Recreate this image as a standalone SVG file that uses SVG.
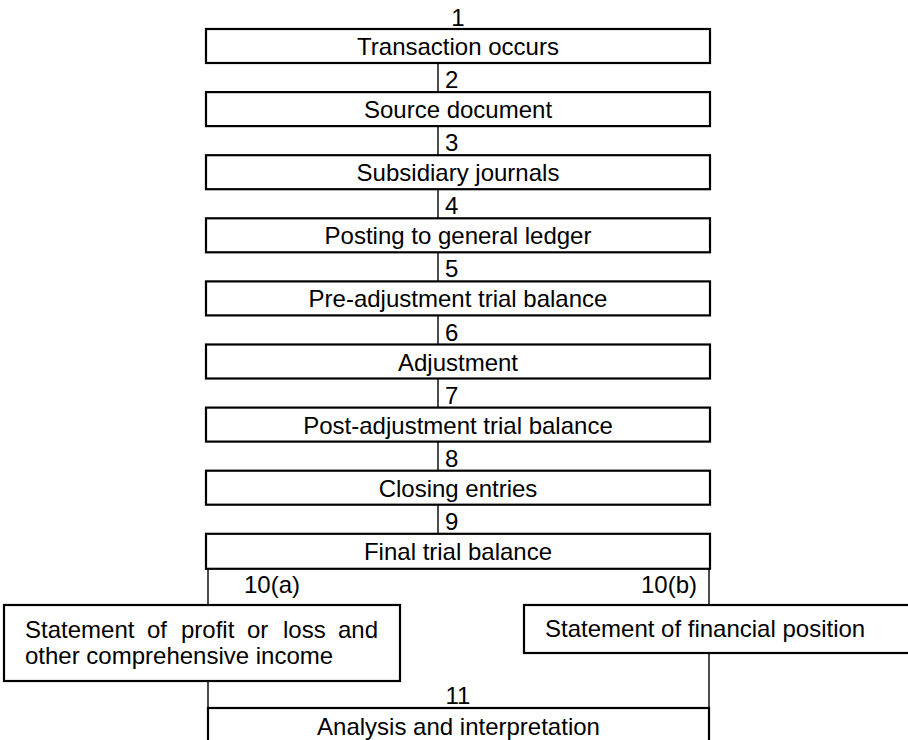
<svg xmlns="http://www.w3.org/2000/svg" width="908" height="740" viewBox="0 0 908 740">
<style>
.box{fill:#fff;stroke:#000;stroke-width:2.2}
.t{font-family:"Liberation Sans",Arial,sans-serif;font-size:24px;fill:#000}
.m{text-anchor:middle}
.c{stroke:#000;stroke-width:1.4;fill:none}
</style>
<rect width="908" height="740" fill="#fff"/>
<g id="connectors">
<line class="c" x1="438" y1="63" x2="438" y2="92.1"/>
<line class="c" x1="438" y1="126.1" x2="438" y2="155.2"/>
<line class="c" x1="438" y1="189.2" x2="438" y2="218.3"/>
<line class="c" x1="438" y1="252.3" x2="438" y2="281.4"/>
<line class="c" x1="438" y1="315.4" x2="438" y2="344.5"/>
<line class="c" x1="438" y1="378.5" x2="438" y2="407.6"/>
<line class="c" x1="438" y1="441.6" x2="438" y2="470.7"/>
<line class="c" x1="438" y1="504.7" x2="438" y2="533.8"/>
<line class="c" x1="208" y1="568.8" x2="208" y2="605"/>
<line class="c" x1="709" y1="568.8" x2="709" y2="605"/>
<line class="c" x1="208" y1="681" x2="208" y2="708"/>
<line class="c" x1="709" y1="653" x2="709" y2="708"/>
<text class="t m" x="458" y="26">1</text>
<text class="t" x="445" y="88">2</text>
<text class="t" x="445" y="151.2">3</text>
<text class="t" x="445" y="214.3">4</text>
<text class="t" x="445" y="277.4">5</text>
<text class="t" x="445" y="340.5">6</text>
<text class="t" x="445" y="403.6">7</text>
<text class="t" x="445" y="466.7">8</text>
<text class="t" x="445" y="529.8">9</text>
<text class="t" x="244" y="593">10(a)</text>
<text class="t" x="641" y="593">10(b)</text>
<text class="t m" x="458" y="704">11</text>
</g>
<g id="n1"><rect class="box" x="206" y="29" width="504" height="34"/><text class="t m" x="458" y="55">Transaction occurs</text></g>
<g id="n2"><rect class="box" x="206" y="92.1" width="504" height="34"/><text class="t m" x="458" y="118.1">Source document</text></g>
<g id="n3"><rect class="box" x="206" y="155.2" width="504" height="34"/><text class="t m" x="458" y="181.2">Subsidiary journals</text></g>
<g id="n4"><rect class="box" x="206" y="218.3" width="504" height="34"/><text class="t m" x="458" y="244.3">Posting to general ledger</text></g>
<g id="n5"><rect class="box" x="206" y="281.4" width="504" height="34"/><text class="t m" x="458" y="307.4">Pre-adjustment trial balance</text></g>
<g id="n6"><rect class="box" x="206" y="344.5" width="504" height="34"/><text class="t m" x="458" y="370.5">Adjustment</text></g>
<g id="n7"><rect class="box" x="206" y="407.6" width="504" height="34"/><text class="t m" x="458" y="433.6">Post-adjustment trial balance</text></g>
<g id="n8"><rect class="box" x="206" y="470.7" width="504" height="34"/><text class="t m" x="458" y="496.7">Closing entries</text></g>
<g id="n9"><rect class="box" x="206" y="533.8" width="504" height="35"/><text class="t m" x="458" y="559.8">Final trial balance</text></g>
<g id="n10a"><rect class="box" x="4" y="605" width="396" height="76"/>
<text class="t" y="638"><tspan x="25">Statement</tspan><tspan x="147">of</tspan><tspan x="181">profit</tspan><tspan x="247">or</tspan><tspan x="283">loss</tspan><tspan x="338">and</tspan></text>
<text class="t" x="25" y="664">other comprehensive income</text></g>
<g id="n10b"><rect class="box" x="524" y="605" width="400" height="48"/><text class="t" x="545" y="637">Statement of financial position</text></g>
<g id="n11"><rect class="box" x="208" y="708" width="501" height="60"/><text class="t m" x="458.5" y="735">Analysis and interpretation</text></g>
</svg>
